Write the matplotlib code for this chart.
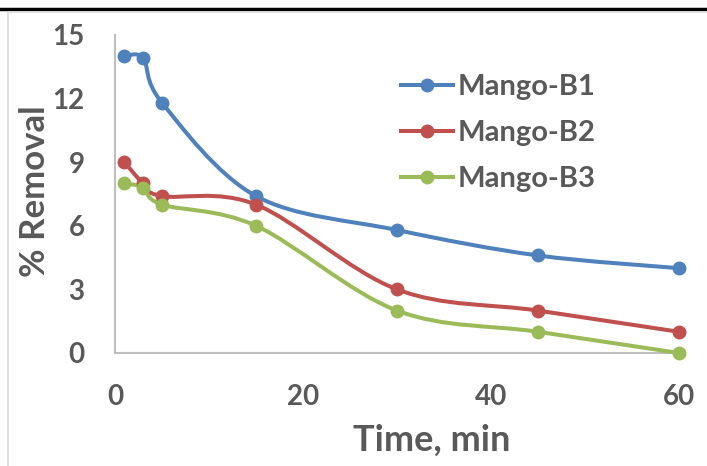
import numpy as np
import matplotlib
matplotlib.use("Agg")
from matplotlib import pyplot as plt
from matplotlib.path import Path
from matplotlib.patches import PathPatch
from matplotlib.lines import Line2D

plt.rcParams["font.family"] = ["Lato", "DejaVu Sans"]
plt.rcParams["font.weight"] = "bold"

time_min = [1, 3, 5, 15, 30, 45, 60]
mango_b1 = [14.0, 13.9, 11.8, 7.4, 5.8, 4.6, 4.0]
mango_b2 = [9.0, 8.0, 7.4, 7.0, 3.0, 2.0, 1.0]
mango_b3 = [8.0, 7.8, 7.0, 6.0, 2.0, 1.0, 0.0]
series_names = ["Mango-B1", "Mango-B2", "Mango-B3"]
colors = ["#4F81BD", "#C0504D", "#9BBB59"]
text_gray = "#595959"


def smooth_path(x, y):
    # excel-like smoothed line: cubic bezier through the points
    pts = np.column_stack([x, y]).astype(float)
    n = len(pts)
    verts = [pts[0]]
    codes = [Path.MOVETO]
    for i in range(n - 1):
        p0 = pts[i - 1] if i > 0 else pts[i]
        p1 = pts[i]
        p2 = pts[i + 1]
        p3 = pts[i + 2] if i + 2 < n else pts[i + 1]
        c1 = p1 + (p2 - p0) / 6
        c2 = p2 - (p3 - p1) / 6
        verts += [c1, c2, p2]
        codes += [Path.CURVE4] * 3
    return Path(verts, codes)


fig = plt.figure(figsize=(7.07, 4.66), dpi=100)
ax = fig.add_axes([0.1627, 0.2425, 0.7977, 0.6824])

for vals, name, c in zip([mango_b1, mango_b2, mango_b3], series_names, colors):
    patch = PathPatch(smooth_path(time_min, vals), facecolor="none",
                      edgecolor=c, lw=2.9, capstyle="round", zorder=3)
    patch.set_clip_on(False)
    ax.add_patch(patch)
    ax.plot(time_min, vals, "o", color=c, ms=9, zorder=4, clip_on=False)

ax.set_xlim(0, 60)
ax.set_ylim(0, 15)
ax.set_xticks([0, 20, 40, 60])
ax.set_yticks([0, 3, 6, 9, 12, 15])
for s in ["top", "right"]:
    ax.spines[s].set_visible(False)
for s in ["left", "bottom"]:
    ax.spines[s].set_color("#BFBFBF")
    ax.spines[s].set_linewidth(1.5)
ax.tick_params(length=0, labelsize=20, colors=text_gray)
ax.tick_params(axis="y", pad=22)
ax.tick_params(axis="x", pad=22)
for lab in ax.get_xticklabels() + ax.get_yticklabels():
    lab.set_fontweight("bold")

ax.set_xlabel("Time, min", fontsize=26, color=text_gray, fontweight="bold", labelpad=10)
ax.xaxis.label.set_x(0.562)
ax.set_ylabel("% Removal", fontsize=25, color=text_gray, fontweight="bold")
ax.yaxis.set_label_coords(-0.113, 0.51)

handles = [Line2D([], [], color=c, lw=2.9, marker="o", ms=9) for c in colors]
leg = ax.legend(handles, series_names, loc="upper left", bbox_to_anchor=(0.47, 0.94),
                frameon=False, handlelength=1.8, handletextpad=0.15,
                labelspacing=0.68, labelcolor=text_gray, borderpad=0.2,
                prop={"weight": "bold", "size": 21})

# frame lines around the picture
fig.add_artist(Line2D([0, 1], [1 - 8.5 / 466] * 2, color="black", lw=2.5,
                      transform=fig.transFigure))
fig.add_artist(Line2D([7.5 / 707, 7.5 / 707, 1], [0, 1 - 12 / 466, 1 - 12 / 466],
                      color="#D9D9D9", lw=1.2, transform=fig.transFigure))

fig.savefig("out.png", dpi=100)
